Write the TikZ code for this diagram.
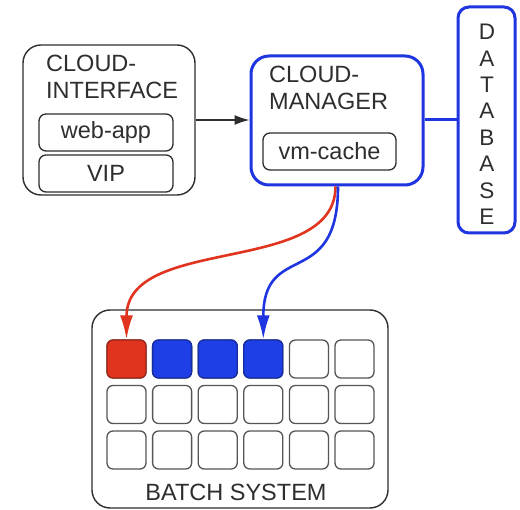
\documentclass[tikz,border=0pt]{standalone}
\usepackage{fontspec}
\setmainfont{Liberation Sans}
\usetikzlibrary{arrows.meta}
\definecolor{ink}{HTML}{2E2E2E}
\definecolor{cellline}{HTML}{555555}
\definecolor{mgrblue}{HTML}{1E35E0}
\definecolor{jobred}{HTML}{E0341F}
\definecolor{jobblue}{HTML}{1F3FE6}
\tikzset{
  outerbox/.style={draw=ink, line width=1.4pt, rounded corners=18pt, fill=white},
  bluebox/.style={draw=mgrblue, line width=3pt, rounded corners=18pt, fill=white},
  innerbox/.style={draw=ink, line width=1.3pt, rounded corners=7pt, minimum width=134pt,
    minimum height=37pt, inner sep=0pt, text=ink, font=\fontsize{23.5}{26}\selectfont},
  title/.style={anchor=north west, align=left, text=ink, inner sep=0pt,
    font=\fontsize{23.5}{27}\selectfont},
  cell/.style={draw=cellline, line width=1.3pt, rounded corners=6pt, minimum width=39pt,
    minimum height=38pt, inner sep=0pt, fill=white},
  redcell/.style={cell, fill=jobred, draw=jobred!70!black},
  bluecell/.style={cell, fill=jobblue, draw=jobblue!70!black},
  flow/.style={line width=2.6pt, -{Latex[length=24pt,width=13pt]}},
}
\begin{document}
\begin{tikzpicture}[x=1pt, y=-1pt]
\useasboundingbox (0,0) rectangle (520,510);
\fill[white] (0,0) rectangle (520,510);

% cloud interface
\node[outerbox, minimum width=172pt, minimum height=150pt, inner sep=0pt] (iface) at (109,120) {};
\node[title] (ifacetitle) at (46,55) {CLOUD-\\INTERFACE};
\node[innerbox] (webapp) at (106,132.5) {web-app};
\node[innerbox] (vip) at (106,173.5) {VIP};

% cloud manager
\node[bluebox, minimum width=172pt, minimum height=129pt, inner sep=0pt] (mgr) at (337,120.5) {};
\node[title] (mgrtitle) at (269,66) {CLOUD-\\MANAGER};
\node[innerbox, minimum width=133pt] (vmcache) at (329.5,151.5) {vm-cache};

% database
\node[bluebox, rounded corners=11pt, minimum width=57pt, minimum height=226pt, inner sep=0pt] (db) at (486.5,120) {};
\foreach \ch [count=\i from 0] in {D,A,T,A,B,A,S,E}
  \node[text=ink, inner sep=0pt, font=\fontsize{22.5}{22}\selectfont] (db\i) at (487,32+26.4*\i) {\ch};

% connections
\draw[ink, line width=1.3pt, -{Latex[length=15pt,width=10pt]}] (iface.east |- 0,120) -- (mgr.west |- 0,120);
\draw[mgrblue, line width=3pt] (mgr.east |- 0,120) -- (db.west |- 0,120);

% batch system
\node[outerbox, minimum width=296pt, minimum height=198pt, inner sep=0pt] (batch) at (240,409) {};
\foreach \r in {0,1,2}
  \foreach \c in {0,...,5}
    \node[cell] (c\r\c) at (126.5+45.6*\c, 359+45.5*\r) {};
\node[redcell] (c00) at (126.5,359) {};
\foreach \c in {1,2,3}
  \node[bluecell] (c0\c) at (126.5+45.6*\c,359) {};
\node[text=ink, inner sep=0pt, font=\fontsize{23.5}{26}\selectfont] (batchtitle) at (236,492) {BATCH SYSTEM};

% job flows
\draw[flow, jobred] ([xshift=-1.5pt]mgr.south) .. controls +(0,90) and ([yshift=105pt]c00.north) .. (c00.north);
\draw[flow, mgrblue] ([xshift=1pt]mgr.south) .. controls +(0,105) and ([yshift=100pt]c03.north) .. (c03.north);
\end{tikzpicture}
\end{document}
